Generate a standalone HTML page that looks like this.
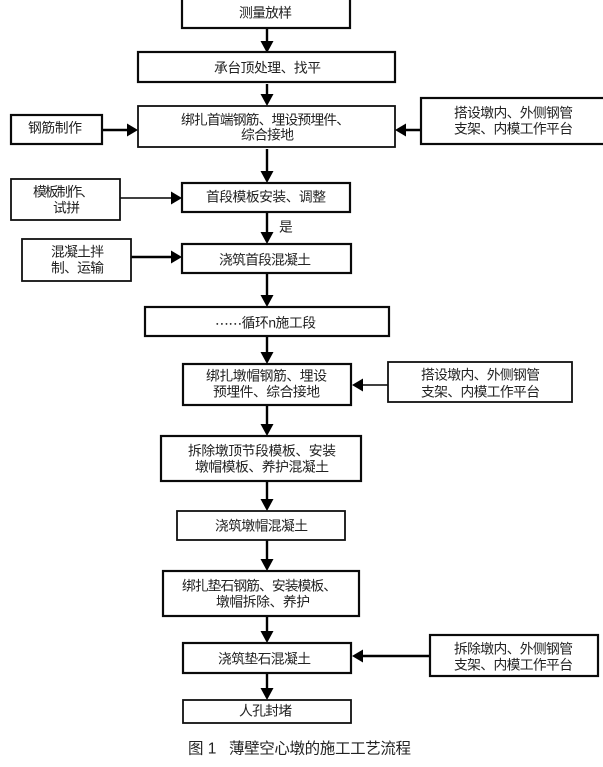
<!DOCTYPE html>
<html><head><meta charset="utf-8"><style>
html,body{margin:0;padding:0;background:#fff;width:603px;height:767px;overflow:hidden}
svg{display:block;filter:blur(0.25px)}
text{font-family:"Liberation Sans","Noto Sans CJK SC",sans-serif;font-size:13.8px;fill:#222;dominant-baseline:central}
.b{fill:#fff;stroke:#0a0a0a;stroke-width:2.2}
.t{fill:#fff;stroke:#111;stroke-width:1.8}
.l{stroke:#000;stroke-width:2.4;fill:none}
.n{stroke:#000;stroke-width:1.4;fill:none}
.a{fill:#000}
</style></head><body>
<svg width="603" height="767" viewBox="0 0 603 767" xmlns="http://www.w3.org/2000/svg">
<rect width="603" height="767" fill="#fff"/>
<!-- connectors -->
<path class="l" d="M267 28V44M267 84V96M267 149V173M267 212V234M267 273V297M267 336V354M267 405V426M267 481V501M267 540V561M267 616V633M267 673V690"/>
<path class="l" d="M102 130H128M421 130H405M131 257H172M430 656H362"/>
<path class="n" d="M120 198H172M388 385H362"/>
<path class="a" d="M260.500 41H273.500L267 53ZM260.500 94H273.500L267 106ZM260.500 171H273.500L267 183ZM260.500 232H273.500L267 244ZM260.500 295H273.500L267 307ZM260.500 352H273.500L267 364ZM260.500 424H273.500L267 436ZM260.500 499H273.500L267 511ZM260.500 559H273.500L267 571ZM260.500 631H273.500L267 643ZM260.500 688H273.500L267 700Z"/>
<path class="a" d="M127 123.500V136.500L138 130ZM406 123.500V136.500L395 130ZM171 191.500V204.500L182 198ZM171 250.500V263.500L182 257ZM363 378.500V391.500L352 385ZM363 649.500V662.500L352 656Z"/>
<!-- boxes -->
<rect class="b" x="182" y="-3" width="168" height="31"/>
<rect class="b" x="138" y="52" width="257" height="30"/>
<rect class="t" x="138" y="106" width="257" height="41"/>
<rect class="b" x="11" y="115" width="91" height="29"/>
<rect class="b" x="421" y="98" width="184" height="46"/>
<rect class="t" x="11" y="179" width="109" height="41"/>
<rect class="b" x="182" y="183" width="168" height="29"/>
<rect class="t" x="22" y="239" width="109" height="42"/>
<rect class="b" x="182" y="244" width="169" height="29"/>
<rect class="b" x="145" y="307" width="244" height="29"/>
<rect class="b" x="183" y="364" width="168" height="41"/>
<rect class="t" x="388" y="362" width="184" height="40"/>
<rect class="b" x="161" y="436" width="200" height="45"/>
<rect class="t" x="177" y="511" width="168" height="29"/>
<rect class="b" x="163" y="571" width="196" height="45"/>
<rect class="b" x="183" y="643" width="168" height="30"/>
<rect class="b" x="430" y="635" width="168" height="41"/>
<rect class="t" x="183" y="700" width="168" height="23"/>
<!-- labels -->
<text x="239" y="13" textLength="53">测量放样</text>
<text x="214" y="68" textLength="107">承台顶处理、找平</text>
<text x="181" y="120" textLength="169">绑扎首端钢筋、埋设预埋件、</text>
<text x="241" y="135" textLength="53">综合接地</text>
<text x="28" y="128" textLength="54">钢筋制作</text>
<text x="454" y="113" textLength="119">搭设墩内、外侧钢管</text>
<text x="454" y="129" textLength="119">支架、内模工作平台</text>
<text x="33" y="192" textLength="61">模板制作、</text>
<text x="53" y="208" textLength="27">试拼</text>
<text x="206" y="197" textLength="120">首段模板安装、调整</text>
<text x="279" y="227" textLength="13">是</text>
<text x="51" y="252" textLength="53">混凝土拌</text>
<text x="51" y="268" textLength="53">制、运输</text>
<text x="219" y="260" textLength="92">浇筑首段混凝土</text>
<text x="215" y="323" textLength="101"><tspan style="font-family:'Noto Sans CJK SC',sans-serif">……</tspan>循环n施工段</text>
<text x="206" y="376" textLength="121">绑扎墩帽钢筋、埋设</text>
<text x="213" y="392" textLength="107">预埋件、综合接地</text>
<text x="421" y="375" textLength="119">搭设墩内、外侧钢管</text>
<text x="421" y="392" textLength="119">支架、内模工作平台</text>
<text x="188" y="451" textLength="148">拆除墩顶节段模板、安装</text>
<text x="195" y="467" textLength="134">墩帽模板、养护混凝土</text>
<text x="215" y="526" textLength="93">浇筑墩帽混凝土</text>
<text x="182" y="586" textLength="155">绑扎垫石钢筋、安装模板、</text>
<text x="216" y="602" textLength="94">墩帽拆除、养护</text>
<text x="218" y="659" textLength="93">浇筑垫石混凝土</text>
<text x="454" y="649" textLength="119">拆除墩内、外侧钢管</text>
<text x="454" y="665" textLength="119">支架、内模工作平台</text>
<text x="239" y="711" textLength="53">人孔封堵</text>
<text x="188" y="749" style="font-size:15.5px">图 1</text>
<text x="229" y="749" textLength="182" style="font-size:15.5px">薄壁空心墩的施工工艺流程</text>
</svg>
</body></html>
